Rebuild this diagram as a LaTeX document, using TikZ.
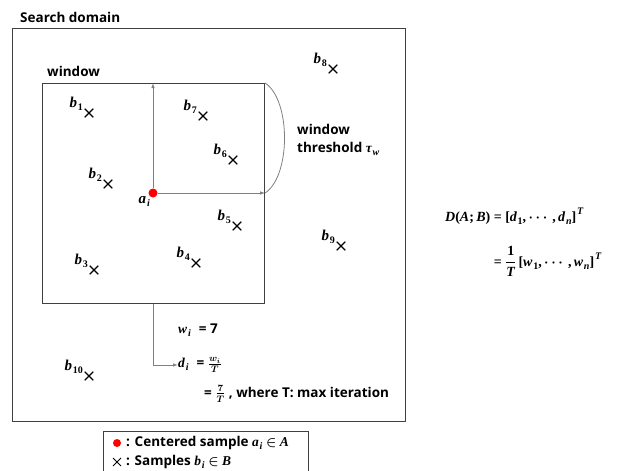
\RequirePackage{fix-cm}
\documentclass[tikz,border=0pt]{standalone}
\usepackage{fontspec}
\setmainfont{Open Sans}
\newfontfamily\mfont{Liberation Serif}
\usepackage{amsmath}
\newcommand{\mv}[1]{{\mfont\bfseries\itshape #1}}
\newcommand{\mr}[1]{{\mfont\bfseries #1}}
\newcommand{\msub}[1]{\kern0.8pt\raisebox{-0.22em}{\mfont\bfseries\fontsize{10}{10}\selectfont #1}}
\newcommand{\msubi}[1]{\kern0.8pt\raisebox{-0.22em}{\mfont\bfseries\itshape\fontsize{10}{10}\selectfont #1}}
\newcommand{\msup}[1]{\kern0.8pt\raisebox{0.5em}{\mfont\bfseries\itshape\fontsize{10}{10}\selectfont #1}}
\usetikzlibrary{shapes.misc,arrows.meta,calc}
\begin{document}
\begin{tikzpicture}[x=1pt,y=-1pt,
  boxline/.style={draw=black!75, line width=1.1pt, fill=none, inner sep=0pt, anchor=north west},
  arr/.style={draw=black!50, line width=0.8pt, -{Latex[length=5pt,width=3.5pt]}},
  xmark/.style={cross out, draw=black, line width=1.1pt, minimum size=7.5pt, inner sep=0pt},
  blabel/.style={anchor=south east, inner sep=0pt, font=\fontsize{15}{17}\selectfont},
  txt/.style={font=\bfseries\boldmath\fontsize{13.5}{18}\selectfont, inner sep=0pt},
  mth/.style={font=\bfseries\boldmath\fontsize{13.5}{15}\selectfont, inner sep=0pt},
  eqn/.style={font=\bfseries\boldmath\fontsize{14}{16}\selectfont, inner sep=0pt},
]
\useasboundingbox (0,0) rectangle (619,471);

% boxes
\node[boxline, minimum width=393pt, minimum height=393pt] (dom) at (12,28) {};
\node[boxline, minimum width=222pt, minimum height=220pt] (win) at (42,83) {};
\node[boxline, line width=0.9pt, minimum width=205pt, minimum height=42pt] (leg) at (103,431) {};

% titles
\node[txt, anchor=base west] (tdom) at (20,22) {Search domain};
\node[txt, anchor=base west] (twin) at (47,76) {window};

% centre sample
\node[circle, fill=red, minimum size=9pt, inner sep=0pt] (a) at (153,193) {};
\node[blabel, anchor=north east] (al) at (150,196) {\mv{a}\msubi{i}};
\draw[arr] (a) -- (a |- win.north);
\draw[arr] (a) -- (a -| win.east);
\coordinate (thr) at (a -| win.east);
\draw[draw=black!50, line width=0.8pt] (win.north east) .. controls (291,100) and (291,176) .. (thr);
\node[txt, anchor=north west, align=left] (tthr) at (297,124) {window\\threshold \mv{τ}\msubi{w}};

% samples
\foreach \i/\px/\py in {1/89/113, 2/108/184, 3/94/270, 4/196/263, 5/237/226, 6/233/160, 7/203/116, 8/333/69, 9/341/246, 10/89/376}{
  \node[xmark] (x\i) at (\px,\py) {};
  \node[blabel] (b\i) at ($(x\i)+(-6,-2)$) {\mv{b}\msub{\i}};
}

% weight / distance
\coordinate (bend) at (153,365);
\node[mth, anchor=west] (wi) at (178,330) {\mv{w}\msubi{i}\hspace{0.6em}= 7};
\node[mth, anchor=west] (di) at (178,365) {\mv{d}\msubi{i}\hspace{0.6em}= $\frac{w_i}{T}$};
\node[mth, anchor=base west] (dt) at (204,397) {= $\frac{7}{T}$ , where T: max iteration};
\draw[arr] (win.south -| a) -- (bend) -- (di.west);

% formula
\node[eqn, anchor=base west] (eq1) at (445,221) {\mv{D}\mr{(}\mv{A}\mr{;\,}\mv{B}\mr{)\ =\ [}\mv{d}\msub{1}\mr{,}\,$\cdots$\,\mr{,}\,\mv{d}\msubi{n}\mr{]}\msup{T}};
\node[eqn, anchor=base west] (eq2) at (445,266) {\phantom{\mv{D}\mr{(}\mv{A}\mr{;\,}\mv{B}\mr{)\ }}\mr{=\ }$\dfrac{\text{\mr{1}}}{\text{\mv{T}}}$\,\mr{[}\mv{w}\msub{1}\mr{,}\,$\cdots$\,\mr{,}\,\mv{w}\msubi{n}\mr{]}\msup{T}};

% legend
\node[circle, fill=red, minimum size=8pt, inner sep=0pt] (ld) at (117,443) {};
\node[xmark, line width=0.9pt, minimum size=7pt] (lx) at (117,462) {};
\node[mth, anchor=west] (lt1) at (126,443) {: Centered sample \mv{a}\msubi{i} $\in$ \mv{A}};
\node[mth, anchor=west] (lt2) at (126,462) {: Samples \mv{b}\msubi{i} $\in$ \mv{B}};
\end{tikzpicture}
\end{document}
